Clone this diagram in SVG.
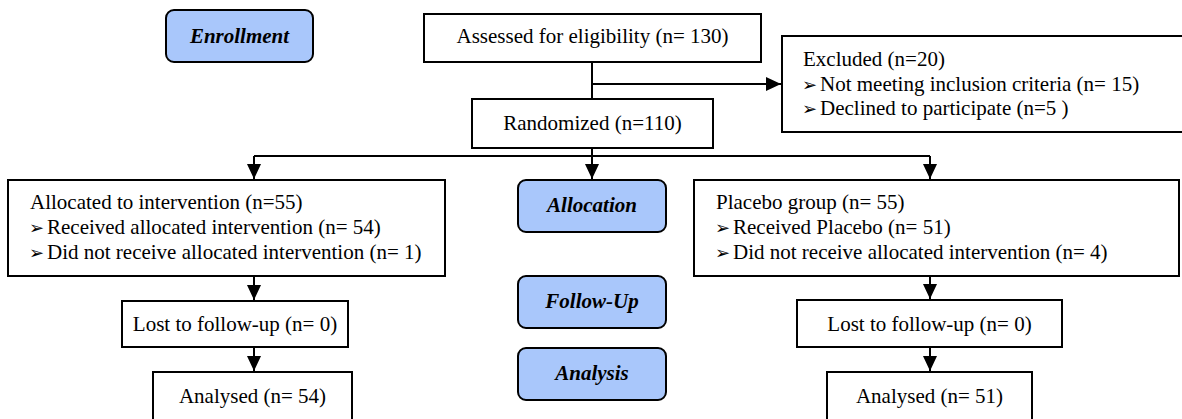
<svg xmlns="http://www.w3.org/2000/svg" width="1182" height="419" viewBox="0 0 1182 419">
<style>
.box{fill:#fff;stroke:#000;stroke-width:2}
.stage{fill:#a9c7fb;stroke:#000;stroke-width:2}
.t{font-family:"Liberation Serif","Times New Roman",serif;font-size:21px;fill:#000}
.b{font-family:"DejaVu Sans",sans-serif;font-size:18px}
.s{font-family:"Liberation Serif","Times New Roman",serif;font-size:21px;font-weight:bold;font-style:italic;fill:#000}
.c{fill:none;stroke:#000;stroke-width:2}
</style>
<defs>
<marker id="ah" markerUnits="userSpaceOnUse" markerWidth="16" markerHeight="16" viewBox="0 0 16 16" refX="15" refY="8" orient="auto">
<path d="M0,1 L15,8 L0,15 Z" fill="#000"/>
</marker>
</defs>
<rect width="1182" height="419" fill="#fff"/>
<g id="connectors">
<path class="c" d="M592,62 V99"/>
<path class="c" d="M592,84 H781" marker-end="url(#ah)"/>
<path class="c" d="M592,148 V179" marker-end="url(#ah)"/>
<path class="c" d="M254,156 H930"/>
<path class="c" d="M254,156 V179" marker-end="url(#ah)"/>
<path class="c" d="M930,156 V179" marker-end="url(#ah)"/>
<path class="c" d="M254,276 V300" marker-end="url(#ah)"/>
<path class="c" d="M254,347 V371" marker-end="url(#ah)"/>
<path class="c" d="M930,276 V299" marker-end="url(#ah)"/>
<path class="c" d="M930,347 V371" marker-end="url(#ah)"/>
</g>
<g id="enrollment"><rect class="stage" x="166" y="10" width="147" height="52" rx="8"/><text class="s" x="239.5" y="43" text-anchor="middle">Enrollment</text></g>
<g id="assessed"><rect class="box" x="424" y="14" width="337" height="48"/><text class="t" x="592.5" y="43" text-anchor="middle">Assessed for eligibility (n= 130)</text></g>
<g id="excluded"><rect class="box" x="782" y="36" width="410" height="96"/>
<text class="t" x="803" y="66">Excluded (n=20)</text>
<text class="t" y="91"><tspan class="b" x="802">➢</tspan><tspan x="820">Not meeting inclusion criteria (n= 15)</tspan></text>
<text class="t" y="115"><tspan class="b" x="802">➢</tspan><tspan x="820">Declined to participate (n=5 )</tspan></text></g>
<g id="randomized"><rect class="box" x="472" y="99" width="241" height="49"/><text class="t" x="592.5" y="130" text-anchor="middle">Randomized (n=110)</text></g>
<g id="allocated"><rect class="box" x="8" y="180" width="437" height="96"/>
<text class="t" x="30" y="209">Allocated to intervention (n=55)</text>
<text class="t" y="234"><tspan class="b" x="29">➢</tspan><tspan x="47">Received allocated intervention (n= 54)</tspan></text>
<text class="t" y="259"><tspan class="b" x="29">➢</tspan><tspan x="47">Did not receive allocated intervention (n= 1)</tspan></text></g>
<g id="allocation"><rect class="stage" x="518" y="180" width="148" height="52" rx="8"/><text class="s" x="592" y="212" text-anchor="middle">Allocation</text></g>
<g id="placebo"><rect class="box" x="694" y="180" width="485" height="96"/>
<text class="t" x="716" y="209">Placebo group (n= 55)</text>
<text class="t" y="234"><tspan class="b" x="715">➢</tspan><tspan x="733">Received Placebo (n= 51)</tspan></text>
<text class="t" y="259"><tspan class="b" x="715">➢</tspan><tspan x="733">Did not receive allocated intervention (n= 4)</tspan></text></g>
<g id="lost-left"><rect class="box" x="122" y="301" width="226" height="46"/><text class="t" x="235" y="331" text-anchor="middle">Lost to follow-up (n= 0)</text></g>
<g id="followup"><rect class="stage" x="518" y="276" width="148" height="52" rx="8"/><text class="s" x="592" y="308" text-anchor="middle">Follow-Up</text></g>
<g id="lost-right"><rect class="box" x="797" y="300" width="265" height="47"/><text class="t" x="929.5" y="331" text-anchor="middle">Lost to follow-up (n= 0)</text></g>
<g id="analysed-left"><rect class="box" x="153" y="372" width="199" height="60"/><text class="t" x="252.5" y="403" text-anchor="middle">Analysed (n= 54)</text></g>
<g id="analysis"><rect class="stage" x="518" y="348" width="148" height="52" rx="8"/><text class="s" x="592" y="380" text-anchor="middle">Analysis</text></g>
<g id="analysed-right"><rect class="box" x="827" y="372" width="205" height="60"/><text class="t" x="929.5" y="403" text-anchor="middle">Analysed (n= 51)</text></g>
</svg>
